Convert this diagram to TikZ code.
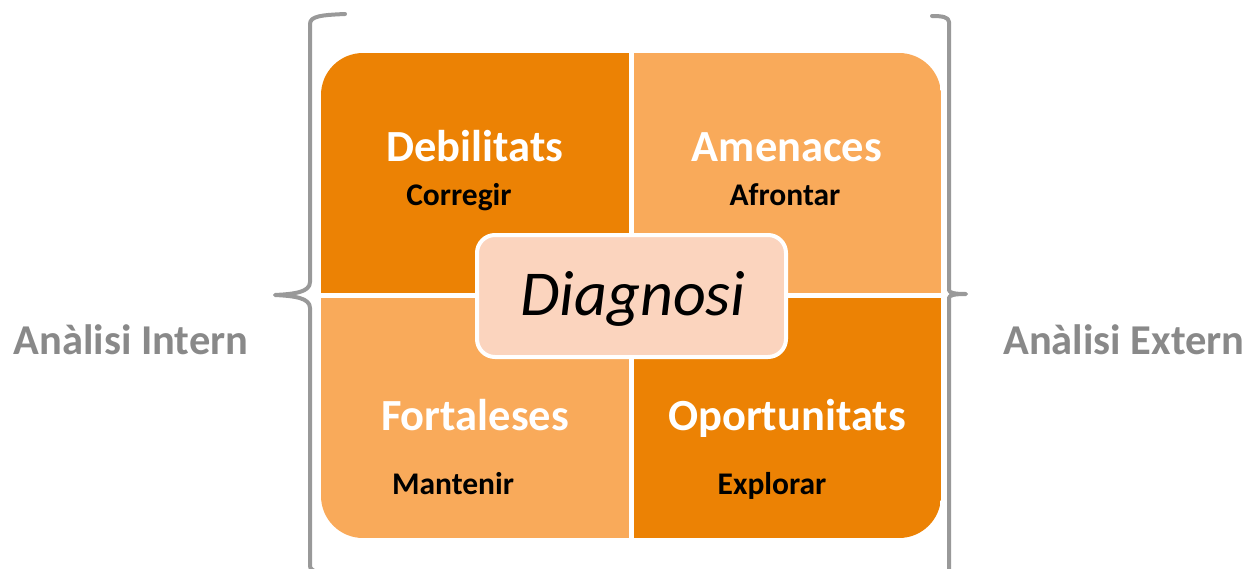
\documentclass[tikz,border=0pt]{standalone}
\usepackage{fontspec}
\setmainfont{Carlito}
\definecolor{darkor}{HTML}{EC8204}
\definecolor{lightor}{HTML}{F9AA5A}
\definecolor{diagfill}{HTML}{FBD4BE}
\definecolor{bracegray}{HTML}{999999}
\definecolor{labelgray}{HTML}{898989}
\tikzset{
  title/.style={text=white, font=\fontsize{44.5}{44.5}\selectfont\bfseries, anchor=base, inner sep=0pt},
  verb/.style={text=black, font=\fontsize{31.5}{31.5}\selectfont\bfseries, anchor=base, inner sep=0pt},
  side/.style={text=labelgray, font=\fontsize{42.5}{42.5}\selectfont\bfseries, anchor=base, inner sep=0pt},
  bracepath/.style={draw=bracegray, line width=4pt, line cap=round, line join=round},
}
\begin{document}
\begin{tikzpicture}[x=1pt,y=-1pt]
\useasboundingbox (0,0) rectangle (1248,568);
\begin{scope}
  \clip[rounded corners=42pt] (321,53) rectangle (941,538);
  \fill[darkor] (321,53) rectangle (631,295);
  \fill[lightor] (631,53) rectangle (941,295);
  \fill[lightor] (321,295) rectangle (631,538);
  \fill[darkor] (631,295) rectangle (941,538);
  \draw[white, line width=5pt] (631,53) -- (631,538);
  \draw[white, line width=5pt] (321,295) -- (941,295);
\end{scope}
% braces
\begin{scope}
  \clip (0,0) rectangle (1248,568);
  \draw[bracepath] (345,14) .. controls (322,15) and (310,16) .. (310,24)
    -- (310,282) .. controls (310,292) and (295,294) .. (275,295)
    .. controls (295,296) and (310,298) .. (310,308)
    -- (310,566) .. controls (310,572) and (322,574) .. (345,576);
  \draw[bracepath] (932,16) .. controls (942,16) and (949,17) .. (949,22)
    -- (949,290) .. controls (949,293) and (955,294) .. (966,294)
    .. controls (955,294) and (949,295) .. (949,298)
    -- (949,580);
\end{scope}
\node[draw=white, line width=4pt, fill=diagfill, rounded corners=18pt,
      minimum width=309pt, minimum height=122pt, inner sep=0pt] (diag) at (631.5,296) {};
\node[anchor=base, inner sep=0pt, font=\fontsize{64}{64}\selectfont\itshape] (diagtext) at (633,315) {Diagnosi};
\node[title] (deb) at (475,161) {Debilitats};
\node[verb] (cor) at (459,205) {Corregir};
\node[title] (ame) at (787,161) {Amenaces};
\node[verb] (afr) at (785,205) {Afrontar};
\node[title] (for) at (475,430) {Fortaleses};
\node[verb] (man) at (453,494) {Mantenir};
\node[title] (opo) at (787,430) {Oportunitats};
\node[verb] (exp) at (772,494) {Explorar};
\node[side] (int) at (131,354) {Anàlisi Intern};
\node[side] (ext) at (1124,354) {Anàlisi Extern};
\end{tikzpicture}
\end{document}
